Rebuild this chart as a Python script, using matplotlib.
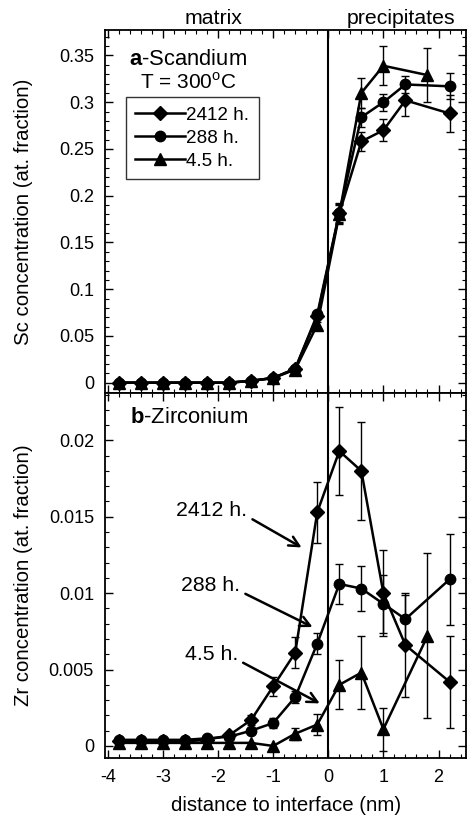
import numpy as np
import matplotlib
matplotlib.use('Agg')
import matplotlib.pyplot as plt
from matplotlib.ticker import MultipleLocator, FormatStrFormatter

plt.rcParams['font.family'] = ['Liberation Sans', 'DejaVu Sans']
plt.rcParams['mathtext.fontset'] = 'custom'
plt.rcParams['mathtext.rm'] = 'Liberation Sans'
plt.rcParams['mathtext.bf'] = 'Liberation Sans:bold'
plt.rcParams['axes.unicode_minus'] = False

# distance to interface (nm)
x_long = [-3.8, -3.4, -3.0, -2.6, -2.2, -1.8, -1.4, -1.0, -0.6, -0.2, 0.2, 0.6, 1.0, 1.4, 2.2]
x_short = [-3.8, -3.4, -3.0, -2.6, -2.2, -1.8, -1.4, -1.0, -0.6, -0.2, 0.2, 0.6, 1.0, 1.8]

# Sc (top panel)
sc_2412 = [0, 0, 0, 0, 0, 0, 0.002, 0.005, 0.015, 0.071, 0.181, 0.258, 0.270, 0.302, 0.288]
sc_288 = [0, 0, 0, 0, 0, 0, 0.002, 0.005, 0.015, 0.073, 0.182, 0.284, 0.300, 0.319, 0.317]
sc_45 = [0, 0, 0, 0, 0, 0, 0.002, 0.005, 0.014, 0.062, 0.180, 0.310, 0.339, 0.329]
sc_2412_err = [0, 0, 0, 0, 0, 0, 0, 0, 0, 0.003, 0.010, 0.010, 0.012, 0.017, 0.020]
sc_288_err = [0, 0, 0, 0, 0, 0, 0, 0, 0, 0.003, 0.010, 0.010, 0.009, 0.009, 0.014]
sc_45_err = [0, 0, 0, 0, 0, 0, 0, 0, 0, 0.003, 0.010, 0.016, 0.021, 0.029]

# Zr (bottom panel)
zr_2412 = [0.0003, 0.0003, 0.0003, 0.0003, 0.0004, 0.0007, 0.0017, 0.0039, 0.0061, 0.0153,
           0.0193, 0.0180, 0.0100, 0.0066, 0.0042]
zr_288 = [0.0004, 0.0004, 0.0004, 0.0004, 0.0005, 0.0006, 0.0010, 0.0015, 0.0032, 0.0067,
          0.0106, 0.0103, 0.0093, 0.0083, 0.0109]
zr_45 = [0.0002, 0.0002, 0.0002, 0.0002, 0.0002, 0.0002, 0.0002, 0.0000, 0.0008, 0.0014,
         0.0040, 0.0048, 0.0011, 0.0072]
zr_2412_err = [0, 0, 0, 0, 0, 0, 0.0003, 0.0006, 0.0010, 0.0020, 0.0029, 0.0032, 0.0028, 0.0034, 0.0030]
zr_288_err = [0, 0, 0, 0, 0, 0, 0.0002, 0.0003, 0.0004, 0.0007, 0.0013, 0.0015, 0.0019, 0.0016, 0.0030]
zr_45_err = [0, 0, 0, 0, 0, 0, 0, 0, 0.0004, 0.0007, 0.0016, 0.0024, 0.0014, 0.0054]

labels = ['2412 h.', '288 h.', '4.5 h.']
markers = ['D', 'o', '^']
msizes = [6.8, 7.5, 8]


def plot_series(ax, x, y, err, marker, ms, label):
    ax.plot(x, y, color='black', lw=1.8, marker=marker, ms=ms, label=label, zorder=3)
    xe = [xi for xi, e in zip(x, err) if e > 0]
    ye = [yi for yi, e in zip(y, err) if e > 0]
    ee = [e for e in err if e > 0]
    ax.errorbar(xe, ye, yerr=ee, fmt='none', ecolor='black', elinewidth=1.0,
                capsize=3, capthick=1.0, zorder=2)


def style_axis(ax):
    for s in ax.spines.values():
        s.set_linewidth(1.3)
    ax.tick_params(which='both', direction='in', top=True, right=True, labelsize=13, pad=8)
    ax.tick_params(which='major', length=6, width=1)
    ax.tick_params(which='minor', length=3, width=0.8)
    ax.xaxis.set_major_locator(MultipleLocator(1))
    ax.xaxis.set_minor_locator(MultipleLocator(0.2))
    ax.axvline(0, color='black', lw=1.5, zorder=1)


fig = plt.figure(figsize=(4.67, 8.17), dpi=100)
ax1 = fig.add_axes([0.225, 0.519, 0.773, 0.444])
ax2 = fig.add_axes([0.225, 0.072, 0.773, 0.447], sharex=ax1)

plot_series(ax1, x_long, sc_2412, sc_2412_err, markers[0], msizes[0], labels[0])
plot_series(ax1, x_long, sc_288, sc_288_err, markers[1], msizes[1], labels[1])
plot_series(ax1, x_short, sc_45, sc_45_err, markers[2], msizes[2], labels[2])

plot_series(ax2, x_long, zr_2412, zr_2412_err, markers[0], msizes[0], labels[0])
plot_series(ax2, x_long, zr_288, zr_288_err, markers[1], msizes[1], labels[1])
plot_series(ax2, x_short, zr_45, zr_45_err, markers[2], msizes[2], labels[2])

style_axis(ax1)
style_axis(ax2)

ax1.set_xlim(-4.05, 2.5)
ax1.set_ylim(-0.011, 0.377)
ax1.yaxis.set_major_locator(MultipleLocator(0.05))
ax1.yaxis.set_minor_locator(MultipleLocator(0.01))
ax1.yaxis.set_major_formatter(FormatStrFormatter('%g'))
ax1.tick_params(labelbottom=False)
ax1.set_ylabel('Sc concentration (at. fraction)', fontsize=14.7)

ax2.set_ylim(-0.0008, 0.0231)
ax2.yaxis.set_major_locator(MultipleLocator(0.005))
ax2.yaxis.set_minor_locator(MultipleLocator(0.001))
ax2.yaxis.set_major_formatter(FormatStrFormatter('%g'))
ax2.set_xticks([-4, -3, -2, -1, 0, 1, 2])
ax2.set_xlabel('distance to interface (nm)', fontsize=14.7, labelpad=7)
ax2.set_ylabel('Zr concentration (at. fraction)', fontsize=14.7)

ax1.yaxis.set_label_coords(-0.2, 0.5)
ax2.yaxis.set_label_coords(-0.2, 0.5)

# top texts
ax1.text(0.30, 1.016, 'matrix', transform=ax1.transAxes, ha='center', va='baseline', fontsize=15.3)
ax1.text(0.821, 1.016, 'precipitates', transform=ax1.transAxes, ha='center', va='baseline', fontsize=15.3)

ax1.text(0.23, 0.904, r'$\bf{a}$-Scandium', transform=ax1.transAxes, ha='center', va='baseline', fontsize=15.8)
ax1.text(0.23, 0.84, r'T = 300$^{\rm o}$C', transform=ax1.transAxes, ha='center', va='baseline', fontsize=15)

leg = ax1.legend(loc='upper left', bbox_to_anchor=(0.058, 0.815), fontsize=13.6, frameon=True,
                 fancybox=False, edgecolor='black', handlelength=2.6, handletextpad=0.1,
                 labelspacing=0.3, borderpad=0.5, borderaxespad=0)
leg.get_frame().set_linewidth(1.0)

ax2.text(0.069, 0.934, r'$\bf{b}$-Zirconium', transform=ax2.transAxes, ha='left', va='center', fontsize=15.8)

arrow = dict(arrowstyle='->', color='black', lw=1.8, mutation_scale=18, relpos=(1.0, 0.2), shrinkA=2)
ax2.annotate('2412 h.', xy=(-0.44, 0.0129), xytext=(-1.47, 0.0154), ha='right', va='center',
             fontsize=15.3, arrowprops=arrow)
ax2.annotate('288 h.', xy=(-0.24, 0.0077), xytext=(-1.6, 0.0105), ha='right', va='center',
             fontsize=15.3, arrowprops=arrow)
ax2.annotate('4.5 h.', xy=(-0.11, 0.0027), xytext=(-1.64, 0.0060), ha='right', va='center',
             fontsize=15.3, arrowprops=arrow)

fig.savefig('out.png', dpi=100)
